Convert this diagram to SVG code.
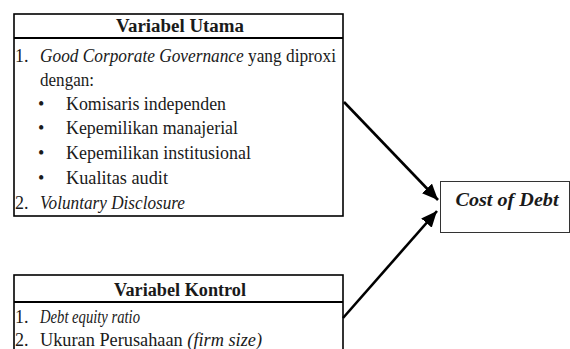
<svg xmlns="http://www.w3.org/2000/svg" width="570" height="349" viewBox="0 0 570 349">
<style>
  .box{fill:#fff;stroke:#000;stroke-width:1.6}
  .div{stroke:#000;stroke-width:2.2}
  .t{font-family:"Liberation Serif","Times New Roman",serif;font-size:18px;fill:#1a1a1a}
  .b{font-weight:bold}
  .i{font-style:italic}
  .conn{stroke:#000;stroke-width:2.6;fill:none}
</style>
<defs>
  <marker id="ah" markerUnits="userSpaceOnUse" markerWidth="18" markerHeight="14" refX="16" refY="7" orient="auto">
    <path d="M0,0 L16,7 L0,14 Z" fill="#000"/>
  </marker>
</defs>
<rect width="570" height="349" fill="#fff"/>
<g id="node-utama">
  <rect class="box" x="14" y="14" width="329" height="202"/>
  <line class="div" x1="14" y1="38" x2="343" y2="38"/>
  <text class="t b" x="180" y="32" text-anchor="middle" textLength="128" lengthAdjust="spacingAndGlyphs">Variabel Utama</text>
  <text class="t" x="15" y="62">1.</text>
  <text class="t" x="40" y="62" textLength="296" lengthAdjust="spacingAndGlyphs"><tspan class="i">Good Corporate Governance</tspan> yang diproxi</text>
  <text class="t" x="40" y="86" textLength="54" lengthAdjust="spacingAndGlyphs">dengan:</text>
  <text class="t" x="38" y="110">•</text>
  <text class="t" x="66" y="110" textLength="160" lengthAdjust="spacingAndGlyphs">Komisaris independen</text>
  <text class="t" x="38" y="134">•</text>
  <text class="t" x="66" y="134" textLength="172" lengthAdjust="spacingAndGlyphs">Kepemilikan manajerial</text>
  <text class="t" x="38" y="158.5">•</text>
  <text class="t" x="66" y="158.5" textLength="185" lengthAdjust="spacingAndGlyphs">Kepemilikan institusional</text>
  <text class="t" x="38" y="184">•</text>
  <text class="t" x="66" y="184" textLength="102" lengthAdjust="spacingAndGlyphs">Kualitas audit</text>
  <text class="t" x="15" y="209">2.</text>
  <text class="t i" x="40" y="209" textLength="145" lengthAdjust="spacingAndGlyphs">Voluntary Disclosure</text>
</g>
<g id="node-kontrol">
  <rect class="box" x="14" y="275" width="329" height="90"/>
  <line class="div" x1="14" y1="302" x2="343" y2="302"/>
  <text class="t b" x="180" y="296" text-anchor="middle" textLength="132" lengthAdjust="spacingAndGlyphs">Variabel Kontrol</text>
  <text class="t" x="15" y="323">1.</text>
  <text class="t i" x="40" y="323" textLength="100" lengthAdjust="spacingAndGlyphs">Debt equity ratio</text>
  <text class="t" x="15" y="346">2.</text>
  <text class="t" x="40" y="346" textLength="222" lengthAdjust="spacingAndGlyphs">Ukuran Perusahaan <tspan class="i">(firm size)</tspan></text>
</g>
<g id="node-cod">
  <rect x="440.5" y="181.5" width="129" height="51" fill="#fff" stroke="#333" stroke-width="1"/>
  <text class="t b i" x="507" y="206" text-anchor="middle" style="font-size:19px" textLength="103" lengthAdjust="spacingAndGlyphs">Cost of Debt</text>
</g>
<g id="connectors">
  <line class="conn" x1="344" y1="102" x2="438" y2="200" marker-end="url(#ah)"/>
  <line class="conn" x1="343" y1="318" x2="437" y2="211" marker-end="url(#ah)"/>
</g>
</svg>
